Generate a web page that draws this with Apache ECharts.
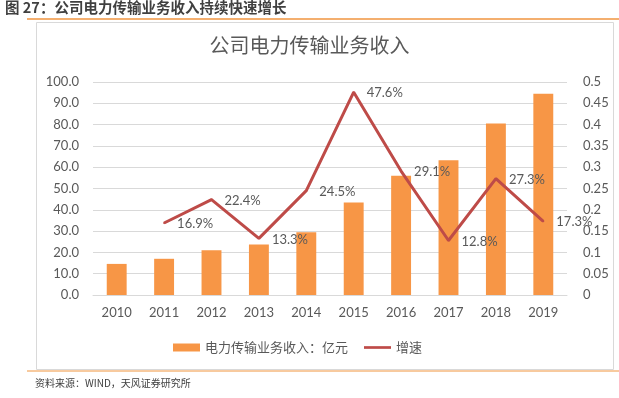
<!DOCTYPE html>
<html><head><meta charset="utf-8">
<script src="https://cdn.jsdelivr.net/npm/echarts@6/dist/echarts.min.js"></script>
<style>html,body{margin:0;padding:0;background:#fff}#c{width:619px;height:398px}</style>
</head><body><div id="c"></div>
<script>
const years = ['2010','2011','2012','2013','2014','2015','2016','2017','2018','2019'];
const revenue = [14.6, 17.0, 21.0, 23.7, 29.5, 43.4, 56.0, 63.3, 80.5, 94.5];
const growth = [null, 0.169, 0.224, 0.133, 0.245, 0.476, 0.291, 0.128, 0.273, 0.173];
const leftTicks = [0,10,20,30,40,50,60,70,80,90,100];
const rightTicks = [0,0.05,0.1,0.15,0.2,0.25,0.3,0.35,0.4,0.45,0.5];
const numFont = 'Lato, "Noto Sans CJK SC", sans-serif';
const cjkFont = '"Noto Sans CJK SC", sans-serif';
const gray = '#595959';
const chart = echarts.init(document.getElementById('c'));
chart.setOption({
  animation: false,
  title: {text: '公司电力传输业务收入', left: 'center', top: 30, textStyle: {fontFamily: cjkFont, fontSize: 20, fontWeight: 'normal', color: gray}},
  graphic: [
    {type: 'text', left: 5, top: 0, style: {text: '图 27：公司电力传输业务收入持续快速增长', font: 'bold 14.5px "Noto Sans CJK SC", sans-serif', fill: '#404040'}},
    {type: 'line', shape: {x1: 27, y1: 19, x2: 619, y2: 19}, style: {stroke: '#F0953F', lineWidth: 1.5}},
    {type: 'rect', shape: {x: 36.5, y: 22.5, width: 577, height: 347}, style: {fill: 'none', stroke: '#D9D9D9', lineWidth: 1}},
    {type: 'line', shape: {x1: 27, y1: 371, x2: 619, y2: 371}, style: {stroke: '#F0953F', lineWidth: 1}},
    {type: 'text', left: 35, top: 378, style: {text: '资料来源：WIND，天风证券研究所', font: '10px "Noto Sans CJK SC", sans-serif', fill: '#404040'}}
  ],
  legend: {
    top: 336, left: 168, itemGap: 16,
    textStyle: {fontFamily: cjkFont, fontSize: 13, color: gray},
    data: [
      {name: '电力传输业务收入：亿元', icon: 'rect', itemStyle: {color: '#F79646'}},
      {name: '增速', icon: 'path://M0,0 L10,0 L10,1 L0,1 Z', itemStyle: {color: '#BE4B48', opacity: 1}}
    ],
    itemWidth: 27, itemHeight: 8
  },
  grid: {left: 93, right: 52, top: 82, bottom: 103},
  xAxis: {
    type: 'category', data: years,
    axisLine: {lineStyle: {color: '#D9D9D9'}}, axisTick: {show: false},
    axisLabel: {fontFamily: numFont, fontSize: 13, color: gray, margin: 11}
  },
  yAxis: [
    {type: 'value', min: 0, max: 100, interval: 10,
     axisLabel: {fontFamily: numFont, fontSize: 13, color: gray, margin: 14, formatter: v => v.toFixed(1)},
     splitLine: {lineStyle: {color: '#D9D9D9'}}, axisLine: {show: false}, axisTick: {show: false}},
    {type: 'value', min: 0, max: 0.5, interval: 0.05,
     axisLabel: {fontFamily: numFont, fontSize: 13, color: gray, margin: 16,
       formatter: v => { const r = Math.round(v*100)/100; return String(r); }},
     splitLine: {show: false}, axisLine: {show: false}, axisTick: {show: false}}
  ],
  series: [
    {name: '电力传输业务收入：亿元', type: 'bar', data: revenue, barWidth: '42%', itemStyle: {color: '#F79646'}},
    {name: '增速', type: 'line', yAxisIndex: 1, data: growth, symbol: 'circle', symbolSize: 2, showSymbol: true, connectNulls: false,
     lineStyle: {color: '#BE4B48', width: 3}, itemStyle: {color: '#BE4B48'},
     label: {show: true, position: 'right', distance: 12, offset: [0, 1], fontFamily: numFont, fontSize: 13, color: gray,
       formatter: p => (p.value*100).toFixed(1) + '%'}}
  ]
});
</script></body></html>
